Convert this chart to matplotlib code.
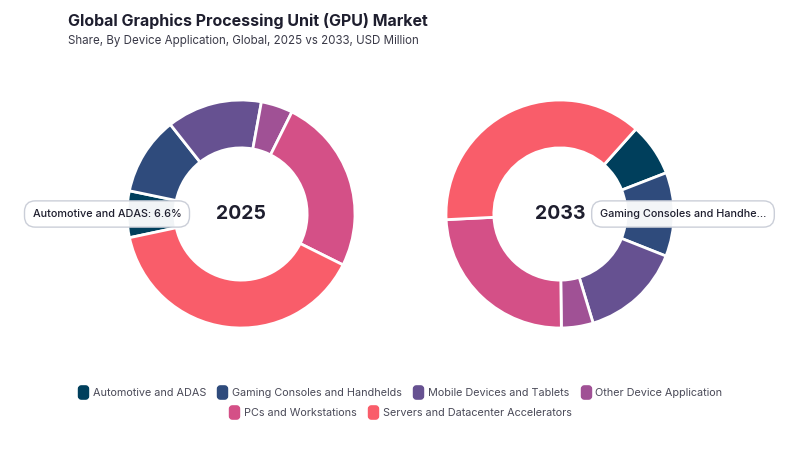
import matplotlib.pyplot as plt
from matplotlib.lines import Line2D
from matplotlib.patches import FancyBboxPatch

plt.rcParams['font.family'] = ['Inter', 'DejaVu Sans']

categories = ["Automotive and ADAS", "Gaming Consoles and Handhelds", "Mobile Devices and Tablets",
              "Other Device Application", "PCs and Workstations", "Servers and Datacenter Accelerators"]
share_2025 = [6.6, 11.1, 13.5, 4.5, 25.0, 39.3]
share_2033 = [7.5, 11.9, 14.3, 4.5, 24.4, 37.4]
colors = ["#003f5c", "#2f4b7c", "#665191", "#a05195", "#d45087", "#f95d6a"]

fig = plt.figure(figsize=(8, 4.5), dpi=100)
W, H = 800, 450


def donut(cx, cy, r, values, year, start):
    ax = fig.add_axes([(cx - r) / W, (H - cy - r) / H, 2 * r / W, 2 * r / H])
    ax.pie(values, colors=colors, startangle=start, counterclock=False, radius=1,
           wedgeprops=dict(width=0.42, edgecolor="white", linewidth=2))
    ax.set_xlim(-1, 1)
    ax.set_ylim(-1, 1)
    ax.axis("off")
    ax.text(0, 0, year, ha="center", va="center", fontsize=14, fontweight="bold", color="#1e1e2e")
    return ax


donut(241, 214, 114, share_2025, "2025", -168)
donut(560, 214, 114, share_2033, "2033", 48.2)

# tooltips
tip_box = dict(boxstyle="round,pad=0.75,rounding_size=1.0", fc="white", ec="#c8ccd6", lw=1, alpha=0.95)
fig.text(107 / W, 1 - 214 / H, f"{categories[0]}: {share_2025[0]}%", ha="center", va="center",
         fontsize=7.8, fontweight="medium", color="#1e1e2e", bbox=tip_box)
fig.text(683 / W, 1 - 214 / H, "Gaming Consoles and Handhe...", ha="center", va="center",
         fontsize=7.8, fontweight="medium", color="#1e1e2e", bbox=tip_box)

fig.text(68 / W, 1 - 21 / H, "Global Graphics Processing Unit (GPU) Market", ha="left", va="center",
         fontsize=11.5, fontweight="bold", color="#1e1e2e")
fig.text(68 / W, 1 - 41 / H, "Share, By Device Application, Global, 2025 vs 2033, USD Million",
         ha="left", va="center", fontsize=8.3, color="#3a3a48")

rr = FancyBboxPatch((-0.38, -0.5), 0.76, 1.0, boxstyle="round,pad=0,rounding_size=0.22").get_path()
handles = [Line2D([], [], marker=rr, linestyle="", markersize=9.5, markerfacecolor=c,
                  markeredgecolor=c) for c in colors]
kw = dict(frameon=False, fontsize=7.8, handletextpad=0.4, columnspacing=1.0, labelcolor="#4a4a58",
          handlelength=1.0, loc="center")
fig.legend(handles[:4], categories[:4], ncol=4, bbox_to_anchor=(0.5, 1 - 393 / H), **kw)
fig.legend(handles[4:], categories[4:], ncol=2, bbox_to_anchor=(0.5, 1 - 413 / H), **kw)

fig.savefig("out.png", dpi=100)
